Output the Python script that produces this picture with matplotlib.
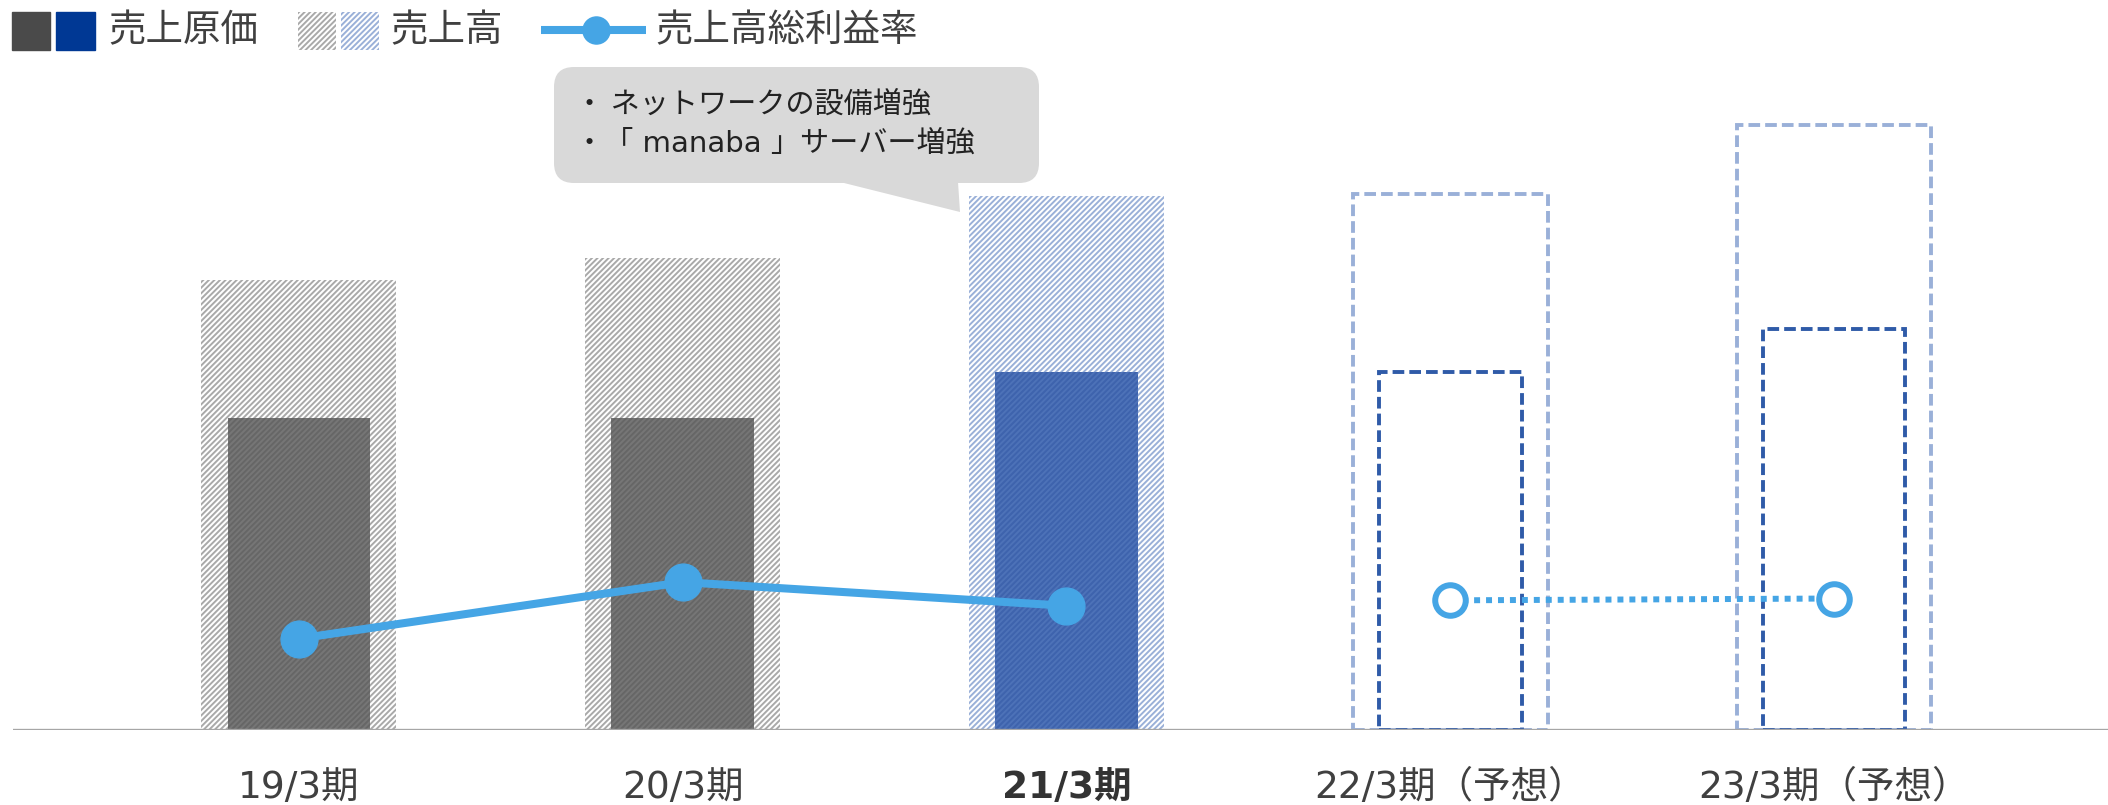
import matplotlib
matplotlib.use("Agg")
import matplotlib.pyplot as plt
from matplotlib.patches import Rectangle, FancyBboxPatch, Polygon

plt.rcParams['font.family'] = ['Noto Sans CJK JP', 'DejaVu Sans']
plt.rcParams['hatch.linewidth'] = 1.4

# data (arbitrary units, no axis in the original)
periods = ["19/3期", "20/3期", "21/3期", "22/3期（予想）", "23/3期（予想）"]
sales = [335, 351, 397, 399, 450]          # 売上高
cost = [232, 232, 266, 266, 298]           # 売上原価
margin = [30.5, 33.6, 32.3, 32.6, 32.7]    # 売上高総利益率 (%)
forecast = [False, False, False, True, True]
note_lines = ["・ ネットワークの設備増強", "・「 manaba 」サーバー増強"]

W, H = 2108, 805
fig = plt.figure(figsize=(W / 100, H / 100), dpi=100)
ax = fig.add_axes([13 / W, 75 / H, (W - 13) / W, 672 / H])
ax.set_xlim(-0.745, 4.714)
ax.set_ylim(0, 500)

x = list(range(len(periods)))
gray_hatch = "#a9a9a9"
blue_hatch = "#9ab0d8"
dash = (0, (3, 1.3))
for i in x:
    if not forecast[i]:
        hc = blue_hatch if i == 2 else gray_hatch
        ax.bar(i, sales[i], width=0.508, color="white", edgecolor=hc, hatch="//////", linewidth=0, zorder=1)
        fc = "#3e63ad" if i == 2 else "#767676"
        ec = "#4d72b8" if i == 2 else "#666666"
        ax.bar(i, cost[i], width=0.372, color=fc, edgecolor=ec, hatch="//////", linewidth=0, zorder=2)
    else:
        ax.bar(i, sales[i], width=0.508, fill=False, edgecolor=blue_hatch, linestyle=dash, linewidth=2.8, zorder=1)
        ax.bar(i, cost[i], width=0.372, fill=False, edgecolor="#2f5ba8", linestyle=dash, linewidth=2.8, zorder=2)

ax.axhline(0, color="#a6a6a6", lw=2.4, zorder=3)

ax2 = ax.twinx()
ax2.set_ylim(25.48, 25.48 + 500 / 13.55)
ax2.axis("off")
line_c = "#45a5e5"
act = [i for i in x if not forecast[i]]
fc_ = [i for i in x if forecast[i]]
ax2.plot(act, [margin[i] for i in act], color=line_c, lw=5.8, marker="o", ms=26.5, zorder=5)
ax2.plot(fc_, [margin[i] for i in fc_], color=line_c, lw=4.3, ls=(0, (1, 1)), zorder=5)
ax2.plot(fc_, [margin[i] for i in fc_], ls="none", marker="o", ms=22, mfc="white", mec=line_c, mew=4.3, zorder=6)

for s in ax.spines.values():
    s.set_visible(False)
ax.set_yticks([])
ax.set_xticks(x)
ax.set_xticklabels(periods, fontsize=27, color="#404040", family=['DejaVu Sans', 'Noto Sans CJK JP'])
ax.tick_params(axis="x", length=0, pad=29)
ax.get_xticklabels()[2].set_fontweight("bold")
ax.get_xticklabels()[2].set_color("#333333")

# overlay in pixel coords for legend and callout
ov = fig.add_axes([0, 0, 1, 1])
ov.set_xlim(0, W)
ov.set_ylim(H, 0)
ov.axis("off")
ov.patch.set_alpha(0)

txt_c = "#404040"
ov.add_patch(Rectangle((12, 12), 38, 38, color="#4a4a4a"))
ov.add_patch(Rectangle((56, 12), 39, 38, color="#003894"))
ov.text(108, 31, "売上原価", fontsize=27, color=txt_c, va="center")
ov.add_patch(Rectangle((298, 12), 38, 38, facecolor="white", edgecolor=gray_hatch, hatch="//////", lw=0))
ov.add_patch(Rectangle((341, 12), 38, 38, facecolor="white", edgecolor=blue_hatch, hatch="//////", lw=0))
ov.text(390, 31, "売上高", fontsize=27, color=txt_c, va="center")
ov.plot([541, 646], [30, 30], color=line_c, lw=5.8, solid_capstyle="butt")
ov.plot([596], [30], marker="o", ms=19.5, color=line_c)
ov.text(655, 31, "売上高総利益率", fontsize=27, color=txt_c, va="center")

ov.add_patch(FancyBboxPatch((566, 79), 461, 92, boxstyle="round,pad=12,rounding_size=20",
                            facecolor="#d9d9d9", edgecolor="none"))
ov.add_patch(Polygon([(840, 182), (958, 182), (960, 212)], closed=True, facecolor="#d9d9d9", edgecolor="none"))
ov.text(575, 105, note_lines[0], fontsize=21, color="#222222", va="center")
ov.text(575, 144, note_lines[1], fontsize=21, color="#222222", va="center",
        family=['DejaVu Sans', 'Noto Sans CJK JP'])

fig.savefig("out.png", dpi=100)
